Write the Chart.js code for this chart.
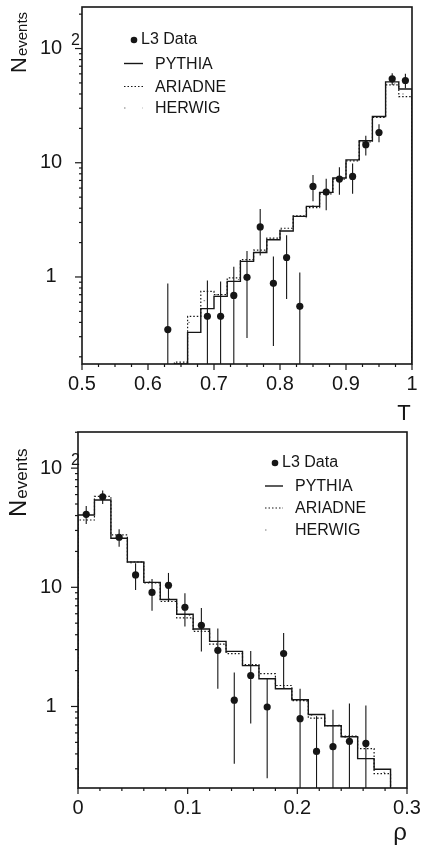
<!DOCTYPE html>
<html>
<head>
<meta charset="utf-8">
<title>Thrust and heavy jet mass distributions</title>
<script src="https://cdn.jsdelivr.net/npm/chart.js@4.4.1/dist/chart.umd.min.js"></script>
<style>
  html, body { margin: 0; padding: 0; background: #fff; }
  body { width: 422px; height: 850px; position: relative; overflow: hidden; }
  .panel { position: absolute; left: 0; width: 422px; height: 425px; }
  canvas { display: block; }
</style>
</head>
<body>
<div class="panel" style="top:0"><canvas id="thrust" width="422" height="425"></canvas></div>
<div class="panel" style="top:425px"><canvas id="rho" width="422" height="425"></canvas></div>
<script>
// ---- Thrust (T) ----
const T_EDGES    = [0.64, 0.66, 0.68, 0.70, 0.72, 0.74, 0.76, 0.78, 0.80, 0.82, 0.84, 0.86, 0.88, 0.90, 0.92, 0.94, 0.96, 0.98, 1.00];
const T_PYTHIA   = [null, 0.327, 0.528, 0.676, 0.915, 1.37, 1.64, 2.12, 2.53, 3.39, 4.15, 5.50, 7.35, 10.6, 15.6, 25.4, 51.1, 44.2];
const T_ARIADNE  = [0.18, 0.452, 0.748, 0.70, 0.98, 1.42, 1.72, 2.19, 2.67, 3.43, 4.05, 5.35, 7.2, 10.4, 15.2, 25.0, 48, 38];
const T_HERWIG   = [null, 0.40, 0.62, 0.70, 0.95, 1.35, 1.68, 2.15, 2.60, 3.30, 4.20, 5.60, 7.40, 10.2, 15.4, 25.2, 49, 40];
const T_CENTERS  = [0.63, 0.69, 0.71, 0.73, 0.75, 0.77, 0.79, 0.81, 0.83, 0.85, 0.87, 0.89, 0.91, 0.93, 0.95, 0.97, 0.99];
const T_DATA     = [0.346, 0.452, 0.452, 0.690, 0.992, 2.74, 0.879, 1.48, 0.553, 6.20, 5.54, 7.20, 7.59, 14.4, 18.4, 54.3, 52.5];
const T_ERR      = [0.53, 0.48, 0.46, 0.54, 0.70, 1.20, 0.63, 0.84, 0.54, 1.60, 1.70, 1.95, 2.25, 2.80, 3.30, 6.4, 7.5];
const T_TICKS       = [0.5, 0.6, 0.7, 0.8, 0.9, 1];
const T_TICK_LABELS = ['0.5', '0.6', '0.7', '0.8', '0.9', '1'];

// ---- Heavy jet mass (rho) ----
const RHO_EDGES   = [0, 0.015, 0.03, 0.045, 0.06, 0.075, 0.09, 0.105, 0.12, 0.135, 0.15, 0.165, 0.18, 0.195, 0.21, 0.225, 0.24, 0.255, 0.27, 0.285];
const RHO_PYTHIA  = [40.4, 54, 25.8, 16.3, 11.0, 7.9, 5.95, 4.47, 3.52, 2.9, 2.2, 1.71, 1.41, 1.14, 0.857, 0.69, 0.557, 0.365, 0.297];
const RHO_ARIADNE = [36.7, 58, 27.5, 16.3, 10.9, 7.6, 5.55, 4.27, 3.34, 2.78, 2.25, 1.89, 1.5, 1.12, 0.80, 0.69, 0.565, 0.443, 0.273];
const RHO_HERWIG  = [38, 56, 26.5, 16.0, 11.2, 8.0, 5.8, 4.4, 3.4, 2.85, 2.2, 1.8, 1.45, 1.1, 0.84, 0.70, 0.55, 0.40, 0.28];
const RHO_CENTERS = [0.0075, 0.0225, 0.0375, 0.0525, 0.0675, 0.0825, 0.0975, 0.1125, 0.1275, 0.1425, 0.1575, 0.1725, 0.1875, 0.2025, 0.2175, 0.2325, 0.2475, 0.2625];
const RHO_DATA    = [41, 57.5, 26.3, 12.7, 9.05, 10.4, 6.8, 4.8, 2.96, 1.13, 1.82, 0.99, 2.78, 0.79, 0.42, 0.46, 0.51, 0.49];
const RHO_ERR     = [7, 7.5, 4.4, 3.2, 2.7, 2.8, 2.1, 1.9, 1.55, 0.8, 1.1, 0.74, 1.35, 0.62, 0.41, 0.48, 0.55, 0.53];
const RHO_TICKS       = [0, 0.1, 0.2, 0.3];
const RHO_TICK_LABELS = ['0', '0.1', '0.2', '0.3'];

// ---- shared vertical axis labels ----
const Y_TICKS = [1, 10, 100];
const Y_TICK_TEXT = ['1', '10', '10'];
const Y_TICK_SUP  = ['', '', '2'];

const SERIES_NAMES = ['L3 Data', 'PYTHIA', 'ARIADNE', 'HERWIG'];

const INK = '#161616';
const FONT = "'Liberation Sans', Arial, Helvetica, sans-serif";

const LINE_STYLES = {
  PYTHIA:  { borderColor: INK, borderWidth: 1.4, borderDash: [] },
  ARIADNE: { borderColor: INK, borderWidth: 1.2, borderDash: [1.5, 2] },
  HERWIG:  { borderColor: '#777', borderWidth: 1, borderDash: [1.5, 17] }
};

// Histogram outline: one point per left bin edge (stepped, horizontal first),
// rising from and dropping back to the lower edge of the plot.
function stepPoints(edges, values, floor) {
  const pts = [{ x: edges[0], y: floor }];
  values.forEach((v, i) => pts.push({ x: edges[i], y: v == null ? floor : v }));
  const last = values[values.length - 1];
  pts.push({ x: edges[edges.length - 1], y: last == null ? floor : last });
  pts.push({ x: edges[edges.length - 1], y: floor });
  return pts;
}

function histDataset(name, edges, values, floor) {
  return Object.assign({
    type: 'line', label: name, data: stepPoints(edges, values, floor),
    stepped: true, pointRadius: 0, fill: false, borderCapStyle: 'butt', tension: 0
  }, LINE_STYLES[name]);
}

function dataDataset(centers, values, errors) {
  return {
    type: 'scatter', label: SERIES_NAMES[0],
    data: centers.map((x, i) => ({ x, y: values[i] })),
    errors,
    showLine: false, pointRadius: 3.6, pointHoverRadius: 3.6,
    pointBackgroundColor: INK, pointBorderWidth: 0
  };
}

// Frame, outward ticks, log labels, axis titles, legend and error bars.
const decor = {
  id: 'decor',
  beforeDatasetsDraw(chart) {
    const { ctx, chartArea: a, scales: { x, y } } = chart;
    ctx.save();
    ctx.beginPath();
    ctx.rect(a.left, a.top, a.right - a.left, a.bottom - a.top);
    ctx.clip();
    ctx.strokeStyle = INK;
    ctx.lineWidth = 1.1;
    chart.data.datasets.forEach(ds => {
      if (!ds.errors) return;
      ds.data.forEach((p, i) => {
        const lo = Math.max(p.y - ds.errors[i], y.min);
        const hi = p.y + ds.errors[i];
        const px = x.getPixelForValue(p.x);
        ctx.beginPath();
        ctx.moveTo(px, y.getPixelForValue(lo));
        ctx.lineTo(px, y.getPixelForValue(hi));
        ctx.stroke();
      });
    });
    ctx.restore();
  },
  afterDraw(chart, args, o) {
    const { ctx, chartArea: a, scales: { x, y } } = chart;
    ctx.save();
    ctx.strokeStyle = INK;
    ctx.fillStyle = INK;

    // frame
    ctx.lineWidth = 1.6;
    ctx.strokeRect(a.left, a.top, a.right - a.left, a.bottom - a.top);

    // x ticks (outward)
    ctx.lineWidth = 1.2;
    const n = Math.round((x.max - x.min) / o.xMinor);
    for (let i = 0; i <= n; i++) {
      const v = x.min + i * o.xMinor;
      const major = o.xTicks.some(t => Math.abs(t - v) < 1e-6);
      const px = x.getPixelForValue(v);
      ctx.beginPath();
      ctx.moveTo(px, a.bottom);
      ctx.lineTo(px, a.bottom + (major ? 6 : 3));
      ctx.stroke();
    }

    // y ticks (outward, log decades)
    for (let d = Math.floor(Math.log10(y.min)); d <= Math.ceil(Math.log10(y.max)); d++) {
      for (let m = 1; m <= 9; m++) {
        const v = m * Math.pow(10, d);
        if (v < y.min || v > y.max) continue;
        const py = y.getPixelForValue(v);
        ctx.beginPath();
        ctx.moveTo(a.left - (m === 1 ? 7 : 3), py);
        ctx.lineTo(a.left, py);
        ctx.stroke();
      }
    }

    // y tick labels
    ctx.textBaseline = 'middle';
    Y_TICKS.forEach((v, i) => {
      const py = y.getPixelForValue(v);
      ctx.font = `20px ${FONT}`;
      ctx.textAlign = 'center';
      ctx.fillText(Y_TICK_TEXT[i], o.yLabelX, py);
      if (Y_TICK_SUP[i]) {
        const w = ctx.measureText(Y_TICK_TEXT[i]).width;
        ctx.font = `16px ${FONT}`;
        ctx.textAlign = 'left';
        ctx.fillText(Y_TICK_SUP[i], o.yLabelX + w / 2 + 9, py - 8);
      }
    });

    // vertical axis title: N with subscript "events"
    ctx.save();
    ctx.translate(o.yTitle.x, o.yTitle.y);
    ctx.rotate(-Math.PI / 2);
    ctx.textAlign = 'left';
    ctx.textBaseline = 'alphabetic';
    ctx.font = `${o.yTitle.nSize}px ${FONT}`;
    ctx.fillText('N', 0, 0);
    const nw = ctx.measureText('N').width;
    ctx.font = `${o.yTitle.subSize}px ${FONT}`;
    ctx.fillText('events', nw + 1, 1.5);
    ctx.restore();

    // horizontal axis title
    ctx.font = `${o.xTitle.size}px ${FONT}`;
    ctx.textAlign = 'center';
    ctx.textBaseline = 'alphabetic';
    ctx.fillText(o.xTitle.text, o.xTitle.x, o.xTitle.y);

    // legend
    const L = o.legend;
    ctx.font = `16px ${FONT}`;
    ctx.textAlign = 'left';
    ctx.textBaseline = 'middle';
    ctx.beginPath();
    ctx.arc(L.dotX, L.rows[0], 3.3, 0, Math.PI * 2);
    ctx.fill();
    ctx.fillText(SERIES_NAMES[0], L.dataTextX, L.rows[0]);
    [1, 2, 3].forEach(k => {
      const st = LINE_STYLES[SERIES_NAMES[k]];
      const ly = L.rows[k] - 1;
      ctx.save();
      ctx.strokeStyle = st.borderColor;
      ctx.lineWidth = st.borderWidth;
      ctx.setLineDash(st.borderDash);
      ctx.beginPath();
      ctx.moveTo(L.lineX0, ly);
      ctx.lineTo(L.lineX1, ly);
      ctx.stroke();
      ctx.restore();
      ctx.fillText(SERIES_NAMES[k], L.textX, L.rows[k]);
    });
    ctx.restore();
  }
};

function makePanel(id, p) {
  const floor = p.yMin;
  return new Chart(document.getElementById(id), {
    type: 'scatter',
    data: {
      datasets: [
        dataDataset(p.centers, p.data, p.err),
        histDataset('PYTHIA', p.edges, p.pythia, floor),
        histDataset('ARIADNE', p.edges, p.ariadne, floor),
        histDataset('HERWIG', p.edges, p.herwig, floor)
      ]
    },
    options: {
      responsive: false,
      devicePixelRatio: 1,
      animation: false,
      events: [],
      layout: { padding: { top: p.padTop, right: p.padRight, left: 0, bottom: 0 } },
      scales: {
        x: {
          type: 'linear', min: p.xMin, max: p.xMax,
          afterBuildTicks: s => { s.ticks = p.ticks.map(v => ({ value: v })); },
          ticks: {
            autoSkip: false, maxRotation: 0, padding: 8, color: INK,
            font: { family: FONT, size: 20 },
            callback: v => {
              const i = p.ticks.findIndex(t => Math.abs(t - v) < 1e-6);
              return i >= 0 ? p.tickLabels[i] : '';
            }
          },
          grid: { display: false, drawTicks: false },
          border: { display: false },
          afterFit: s => { s.height = p.xAxisHeight; s.paddingLeft = 0; s.paddingRight = 0; }
        },
        y: {
          type: 'logarithmic', min: p.yMin, max: p.yMax,
          ticks: { display: false },
          grid: { display: false, drawTicks: false },
          border: { display: false },
          afterFit: s => { s.width = p.yAxisWidth; }
        }
      },
      plugins: {
        legend: { display: false },
        tooltip: { enabled: false },
        decor: p.decor
      }
    },
    plugins: [decor]
  });
}

makePanel('thrust', {
  edges: T_EDGES, pythia: T_PYTHIA, ariadne: T_ARIADNE, herwig: T_HERWIG,
  centers: T_CENTERS, data: T_DATA, err: T_ERR,
  ticks: T_TICKS, tickLabels: T_TICK_LABELS,
  xMin: 0.5, xMax: 1.0, yMin: 0.173, yMax: 231,
  padTop: 7, padRight: 10, yAxisWidth: 82, xAxisHeight: 61,
  decor: {
    xMinor: 0.025, xTicks: T_TICKS, yLabelX: 51,
    yTitle: { x: 25.5, y: 73, nSize: 22, subSize: 15 },
    xTitle: { text: 'T', x: 404, y: 420, size: 22 },
    legend: { dotX: 134, dataTextX: 141, lineX0: 124, lineX1: 143, textX: 155, rows: [40, 64.5, 87.5, 109] }
  }
});

makePanel('rho', {
  edges: RHO_EDGES, pythia: RHO_PYTHIA, ariadne: RHO_ARIADNE, herwig: RHO_HERWIG,
  centers: RHO_CENTERS, data: RHO_DATA, err: RHO_ERR,
  ticks: RHO_TICKS, tickLabels: RHO_TICK_LABELS,
  xMin: 0, xMax: 0.3, yMin: 0.207, yMax: 201,
  padTop: 7, padRight: 15, yAxisWidth: 78, xAxisHeight: 62,
  decor: {
    xMinor: 0.02, xTicks: RHO_TICKS, yLabelX: 51,
    yTitle: { x: 25.5, y: 92, nSize: 24, subSize: 17 },
    xTitle: { text: 'ρ', x: 400, y: 415, size: 24 },
    legend: { dotX: 275, dataTextX: 282, lineX0: 265, lineX1: 283, textX: 295, rows: [38, 62, 84, 106] }
  }
});
</script>
</body>
</html>
